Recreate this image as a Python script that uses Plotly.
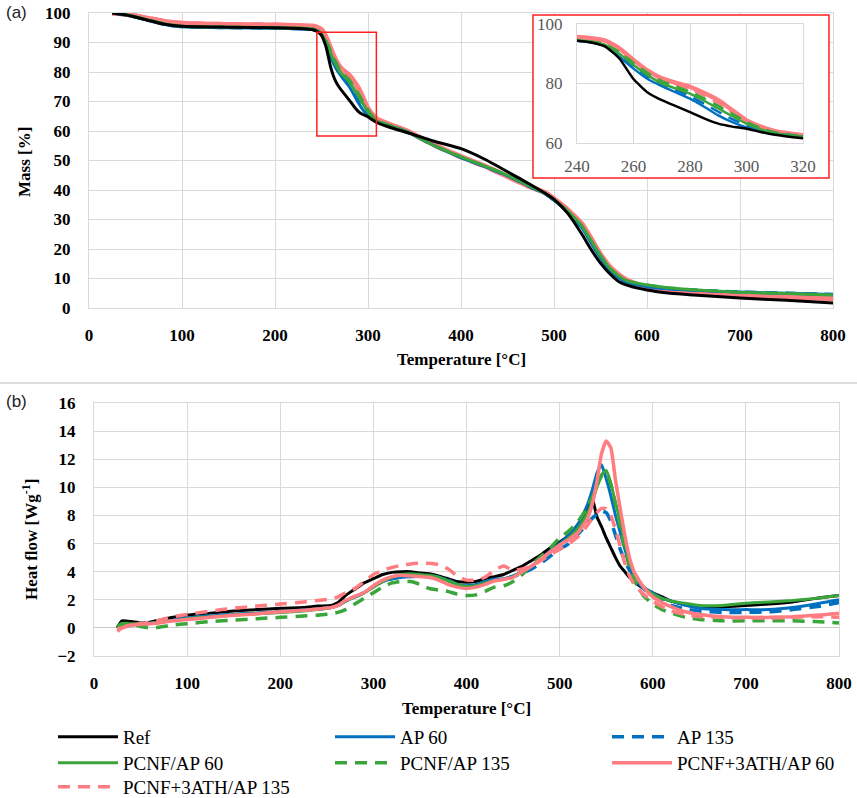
import plotly.graph_objects as go

W, H = 857, 798

# ---------------- data ----------------
series_names = ["Ref", "AP 60", "AP 135", "PCNF/AP 60", "PCNF/AP 135",
                "PCNF+3ATH/AP 60", "PCNF+3ATH/AP 135"]
series_colors = ["#000000", "#0070C0", "#0070C0", "#3AA53A", "#3AA53A",
                 "#FF7C80", "#FF7C80"]
series_dash = ["solid", "solid", "12px,8px", "solid", "12px,8px", "solid", "12px,8px"]
legend_row = ["legend", "legend", "legend", "legend2", "legend2", "legend2", "legend3"]

# TGA (mass %)
T_tga = [25, 40, 60, 80, 100, 150, 200, 230, 240, 245, 250, 255, 260, 265, 270, 275,
         280, 285, 290, 295, 300, 305, 310, 320, 330, 345, 370, 400, 425, 450, 475,
         490, 500, 515, 530, 540, 550, 560, 570, 580, 600, 625, 650, 700, 750, 800]
mass_ref = [100, 99.3, 97.8, 96.3, 95.5, 95.2, 95.0, 94.7, 94.4, 93.8, 92.4, 88.4, 81.5,
            77.0, 74.4, 72.4, 70.4, 68.3, 66.5, 65.5, 64.8, 63.7, 62.8, 61.6, 60.6, 59.2,
            56.6, 54.0, 50.5, 46.2, 41.8, 39.0, 36.8, 32.0, 25.0, 19.8, 15.2, 11.6, 8.9,
            7.6, 6.1, 5.0, 4.4, 3.4, 2.6, 1.7]
mass_ap60 = [100, 99.3, 97.8, 96.2, 95.3, 95.0, 94.8, 94.6, 94.4, 93.8, 92.6, 89.0, 85.0,
             81.5, 79.1, 77.0, 74.9, 72.2, 69.3, 67.0, 65.2, 64.0, 63.2, 62.1, 61.1, 59.3,
             55.2, 51.0, 48.0, 44.8, 41.0, 38.8, 36.5, 32.5, 27.2, 22.0, 17.0, 12.8, 10.2,
             8.5, 7.2, 6.4, 6.0, 5.4, 5.0, 4.6]
mass_ap135 = [100, 99.3, 97.8, 96.2, 95.3, 95.0, 94.8, 94.6, 94.4, 93.9, 92.9, 89.8, 86.0,
              82.3, 79.8, 77.8, 75.8, 73.2, 70.5, 68.0, 66.0, 64.4, 63.4, 62.1, 61.1, 59.3,
              55.2, 51.0, 48.0, 44.8, 41.0, 38.8, 36.5, 32.6, 27.5, 22.4, 17.5, 13.2, 10.5,
              8.7, 7.4, 6.5, 6.1, 5.5, 5.1, 4.7]
mass_pcnf60 = [100, 99.4, 97.9, 96.4, 95.5, 95.2, 95.0, 94.8, 94.6, 94.0, 93.0, 90.0, 86.2,
               82.8, 80.0, 78.3, 76.6, 74.2, 71.6, 69.0, 66.5, 64.6, 63.3, 62.1, 61.1, 59.3,
               55.2, 51.2, 48.2, 45.0, 41.2, 39.0, 36.7, 32.8, 27.8, 22.8, 17.8, 13.5, 10.8,
               9.0, 7.8, 6.8, 6.2, 5.3, 4.9, 4.4]
mass_pcnf135 = [100, 99.4, 97.9, 96.4, 95.5, 95.2, 95.0, 94.8, 94.6, 94.1, 93.2, 90.6, 87.0,
                83.6, 80.8, 79.0, 77.3, 75.0, 72.5, 69.8, 67.2, 65.0, 63.6, 62.2, 61.2, 59.3,
                55.2, 51.2, 48.2, 45.0, 41.2, 39.0, 36.7, 32.8, 27.8, 22.8, 17.8, 13.5, 10.8,
                9.0, 7.8, 6.8, 6.2, 5.4, 5.0, 4.5]
mass_ath60 = [100, 99.6, 98.4, 97.2, 96.5, 96.1, 95.9, 95.7, 95.6, 95.2, 94.4, 91.8, 87.9,
              84.3, 81.7, 80.2, 78.9, 76.8, 74.4, 71.0, 67.6, 65.5, 64.0, 62.6, 61.5, 59.6,
              55.5, 51.3, 48.2, 44.6, 41.0, 39.2, 37.0, 33.2, 28.5, 23.5, 18.2, 14.0, 11.2,
              9.2, 6.9, 5.8, 5.2, 4.2, 3.7, 3.1]
mass_ath135 = [100, 99.6, 98.4, 97.2, 96.5, 96.1, 95.9, 95.7, 95.5, 95.0, 94.2, 91.4, 87.4,
               83.8, 81.3, 79.8, 78.5, 76.3, 73.8, 70.5, 67.3, 65.3, 63.9, 62.5, 61.4, 59.5,
               55.4, 51.2, 48.1, 44.6, 41.0, 39.2, 37.0, 33.1, 28.3, 23.3, 18.0, 13.8, 11.0,
               9.0, 6.9, 5.8, 5.2, 4.3, 3.8, 3.3]
mass_all = [mass_ref, mass_ap60, mass_ap135, mass_pcnf60, mass_pcnf135, mass_ath60, mass_ath135]

# DSC (heat flow W/g)
T_dsc = [25, 30, 40, 50, 60, 70, 85, 100, 125, 150, 175, 200, 225, 240, 255, 262, 270, 280,
         290, 300, 310, 320, 330, 340, 350, 360, 370, 380, 390, 400, 410, 420, 430, 440,
         450, 460, 470, 480, 490, 500, 510, 520, 530, 535, 540, 545, 550, 555, 560, 565,
         570, 575, 580, 590, 600, 610, 620, 635, 650, 675, 700, 725, 750, 775, 800]
hf_ref = [0.0, 0.5, 0.45, 0.35, 0.4, 0.55, 0.75, 0.9, 1.05, 1.2, 1.3, 1.4, 1.45, 1.55, 1.6,
          1.8, 2.3, 2.75, 3.2, 3.5, 3.8, 3.95, 4.0, 4.0, 3.9, 3.85, 3.7, 3.5, 3.3, 3.25, 3.3,
          3.5, 3.65, 3.8, 4.1, 4.4, 4.8, 5.2, 5.7, 6.1, 6.6, 7.4, 8.5, 9.2, 7.9, 7.2, 6.4,
          5.7, 5.0, 4.4, 4.0, 3.6, 3.3, 2.8, 2.5, 2.2, 1.9, 1.65, 1.5, 1.5, 1.6, 1.7, 1.85,
          2.1, 2.3]
hf_ap60 = [0.0, 0.1, 0.2, 0.3, 0.35, 0.4, 0.55, 0.7, 0.85, 0.95, 1.05, 1.15, 1.25, 1.35,
           1.45, 1.6, 1.9, 2.2, 2.5, 2.95, 3.3, 3.5, 3.6, 3.65, 3.7, 3.7, 3.6, 3.4, 3.1, 3.0,
           3.05, 3.3, 3.45, 3.5, 3.7, 4.0, 4.4, 4.9, 5.5, 6.0, 6.6, 7.4, 8.8, 9.8, 11.0, 11.6,
           10.6, 9.4, 8.0, 6.8, 5.6, 4.6, 3.9, 2.9, 2.5, 2.1, 1.9, 1.6, 1.4, 1.3, 1.3, 1.3,
           1.45, 1.7, 2.0]
hf_ap135 = [0.0, 0.1, 0.2, 0.3, 0.35, 0.4, 0.55, 0.7, 0.85, 0.95, 1.05, 1.15, 1.25, 1.35,
            1.45, 1.6, 1.9, 2.2, 2.5, 2.95, 3.3, 3.5, 3.6, 3.65, 3.7, 3.7, 3.6, 3.4, 3.1, 3.0,
            3.05, 3.3, 3.45, 3.5, 3.65, 3.9, 4.2, 4.6, 5.1, 5.6, 6.0, 6.7, 7.4, 7.8, 8.1, 8.3,
            8.2, 7.6, 6.6, 5.6, 4.8, 4.1, 3.6, 2.8, 2.3, 1.9, 1.6, 1.35, 1.2, 1.1, 1.1, 1.15,
            1.3, 1.5, 1.8]
hf_pcnf60 = [0.1, 0.25, 0.3, 0.3, 0.3, 0.4, 0.5, 0.65, 0.8, 0.9, 1.0, 1.1, 1.2, 1.3, 1.45,
             1.6, 1.9, 2.2, 2.5, 2.9, 3.3, 3.6, 3.8, 3.85, 3.8, 3.75, 3.6, 3.35, 3.1, 2.95,
             3.0, 3.2, 3.35, 3.45, 3.65, 4.0, 4.4, 4.9, 5.4, 5.9, 6.4, 7.1, 8.2, 9.0, 10.0,
             10.9, 11.2, 10.3, 8.9, 7.6, 6.0, 4.8, 3.9, 2.9, 2.4, 2.1, 1.9, 1.75, 1.6, 1.6,
             1.75, 1.85, 1.95, 2.1, 2.3]
hf_pcnf135 = [0.1, 0.3, 0.3, 0.1, 0.0, 0.05, 0.2, 0.3, 0.45, 0.55, 0.65, 0.75, 0.85, 0.9,
              1.0, 1.1, 1.3, 1.7, 2.1, 2.5, 2.9, 3.2, 3.3, 3.3, 3.1, 2.8, 2.7, 2.6, 2.4, 2.3,
              2.35, 2.6, 2.9, 3.0, 3.3, 3.8, 4.5, 5.1, 5.7, 6.4, 6.9, 7.6, 8.6, 9.3, 10.1,
              10.8, 11.0, 10.2, 8.8, 7.2, 5.7, 4.3, 3.4, 2.3, 1.7, 1.3, 1.05, 0.75, 0.6, 0.5,
              0.5, 0.5, 0.5, 0.45, 0.35]
hf_ath60 = [-0.25, 0.0, 0.2, 0.25, 0.3, 0.35, 0.5, 0.6, 0.75, 0.9, 1.0, 1.15, 1.25, 1.35,
            1.45, 1.6, 1.95, 2.25, 2.5, 3.0, 3.4, 3.65, 3.75, 3.7, 3.65, 3.6, 3.4, 3.1, 2.9,
            2.8, 2.9, 3.1, 3.35, 3.45, 3.6, 4.0, 4.4, 4.9, 5.4, 5.9, 6.3, 6.8, 7.8, 8.8, 10.4,
            12.4, 13.3, 12.8, 10.5, 8.5, 6.6, 5.0, 4.0, 2.9, 2.2, 1.8, 1.5, 1.15, 0.95, 0.8,
            0.75, 0.75, 0.8, 0.9, 1.05]
hf_ath135 = [-0.1, 0.0, 0.2, 0.3, 0.4, 0.55, 0.8, 0.95, 1.2, 1.4, 1.55, 1.7, 1.85, 1.95,
             2.05, 2.2, 2.5, 2.8, 3.3, 3.8, 4.1, 4.3, 4.45, 4.55, 4.6, 4.6, 4.5, 4.2, 3.7,
             3.4, 3.4, 3.6, 4.1, 4.4, 4.1, 4.2, 4.4, 4.8, 5.2, 5.6, 6.0, 6.5, 7.3, 7.8, 8.2,
             8.5, 8.5, 8.0, 7.0, 5.8, 4.6, 3.7, 3.1, 2.4, 1.9, 1.5, 1.2, 0.95, 0.8, 0.75, 0.7,
             0.7, 0.75, 0.8, 0.75]
hf_all = [hf_ref, hf_ap60, hf_ap135, hf_pcnf60, hf_pcnf135, hf_ath60, hf_ath135]

mass_ticks = list(range(0, 101, 10))
temp_ticks = list(range(0, 801, 100))
inset_x_ticks = [240, 260, 280, 300, 320]
inset_y_ticks = [60, 80, 100]
hf_ticks = list(range(-2, 17, 2))
zoom_box_x = [245, 309]
zoom_box_y = [58.3, 93.5]

# ---------------- figure ----------------
def dx(a, b):
    return [a / W, b / W]

def dy(top, bottom):
    return [1 - bottom / H, 1 - top / H]

SERIF = "Liberation Serif, Times New Roman, serif"
GRID = "#d9d9d9"

fig = go.Figure()

top_order = [5, 6, 2, 4, 1, 3, 0]
top_width = [3, 3, 3, 3, 3, 5, 5]

for i in top_order:
    fig.add_trace(go.Scatter(x=T_tga, y=mass_all[i], mode="lines", xaxis="x", yaxis="y",
                             line=dict(color=series_colors[i], width=top_width[i],
                                       dash=series_dash[i], shape="spline", smoothing=0.5),
                             showlegend=False, hoverinfo="skip"))
fig.add_trace(go.Scatter(x=[], y=[], xaxis="x2", yaxis="y2", showlegend=False,
                         hoverinfo="skip"))
for i in top_order:
    fig.add_trace(go.Scatter(x=T_tga, y=mass_all[i], mode="lines", xaxis="x3", yaxis="y3",
                             line=dict(color=series_colors[i], width=top_width[i] - 0.5,
                                       dash=series_dash[i], shape="spline", smoothing=0.5),
                             showlegend=False, hoverinfo="skip"))
bot_width = [3, 3, 3.5, 3, 3.5, 3.5, 3.5]
for i in range(7):
    fig.add_trace(go.Scatter(x=T_dsc, y=hf_all[i], mode="lines", xaxis="x4", yaxis="y4",
                             name=series_names[i], legend=legend_row[i],
                             line=dict(color=series_colors[i], width=bot_width[i],
                                       dash=series_dash[i], shape="spline", smoothing=0.5),
                             showlegend=True, hoverinfo="skip"))

tickfont_b = dict(family=SERIF, size=17, color="black", weight="bold")

def leg(ycenter):
    return dict(orientation="h", x=53 / W, y=1 - ycenter / H, xanchor="left",
                yanchor="middle", entrywidth=202, entrywidthmode="pixels", itemwidth=60,
                font=dict(family=SERIF, size=19, color="black"),
                bgcolor="rgba(0,0,0,0)", traceorder="normal")

fig.update_layout(
    width=W, height=H, margin=dict(l=0, r=0, t=0, b=0, autoexpand=False),
    paper_bgcolor="white", plot_bgcolor="white",
    xaxis=dict(domain=dx(89, 833), range=[0, 800], tickvals=temp_ticks, showgrid=True,
               gridcolor=GRID, showline=True, linecolor=GRID, mirror=True, ticks="",
               tickfont=tickfont_b, ticklabelstandoff=12, zeroline=False, anchor="y"),
    yaxis=dict(domain=dy(13, 308), range=[0, 100], tickvals=mass_ticks, showgrid=True,
               gridcolor=GRID, showline=True, linecolor=GRID, mirror=True, ticks="",
               tickfont=tickfont_b, ticklabelstandoff=14, zeroline=False, anchor="x"),
    xaxis2=dict(domain=dx(533, 829), range=[0, 1], visible=False, anchor="y2"),
    yaxis2=dict(domain=dy(15, 178), range=[0, 1], visible=False, anchor="x2"),
    xaxis3=dict(domain=dx(577, 803), range=[240, 320], tickvals=inset_x_ticks,
                showgrid=True, gridcolor=GRID, showline=True, linecolor=GRID, mirror=True,
                ticks="", tickfont=dict(family=SERIF, size=17, color="#595959"),
                ticklabelstandoff=8, zeroline=False, anchor="y3"),
    yaxis3=dict(domain=dy(24, 143), range=[60, 100], tickvals=inset_y_ticks,
                showgrid=True, gridcolor=GRID, showline=True, linecolor=GRID, mirror=True,
                ticks="", tickfont=dict(family=SERIF, size=17, color="#595959"),
                ticklabelstandoff=10, zeroline=False, anchor="x3"),
    xaxis4=dict(domain=dx(94, 839), range=[0, 800], tickvals=temp_ticks, showgrid=True,
                gridcolor=GRID, showline=True, linecolor=GRID, mirror=True, ticks="",
                tickfont=tickfont_b, ticklabelstandoff=12, zeroline=False, anchor="y4"),
    yaxis4=dict(domain=dy(403, 656), range=[-2, 16], tickvals=hf_ticks, showgrid=True,
                gridcolor=GRID, showline=True, linecolor=GRID, mirror=True, ticks="",
                tickfont=tickfont_b, ticklabelstandoff=14, zeroline=True,
                zerolinecolor="#c8c8c8", zerolinewidth=1, anchor="x4"),
    legend=leg(737), legend2=leg(763), legend3=leg(787),
    showlegend=True,
)

fig.add_shape(type="rect", xref="x", yref="y", x0=zoom_box_x[0], x1=zoom_box_x[1],
              y0=zoom_box_y[0], y1=zoom_box_y[1], line=dict(color="#FF2020", width=1.5),
              layer="above")
fig.add_shape(type="rect", xref="paper", yref="paper", x0=533 / W, x1=829 / W,
              y0=1 - 178 / H, y1=1 - 15 / H, line=dict(color="#FF2020", width=1.5),
              layer="above")
fig.add_shape(type="line", xref="paper", yref="paper", x0=0, x1=1, y0=1 - 383 / H,
              y1=1 - 383 / H, line=dict(color="#d0d0d0", width=1.5))

ann_b = dict(family=SERIF, size=17, color="black", weight="bold")
sans = dict(family="Liberation Sans, Arial, sans-serif", size=17, color="#222")

def note(text, xp, yp, font, angle=0, xanchor="center"):
    fig.add_annotation(text=text, x=xp / W, y=1 - yp / H, xref="paper", yref="paper",
                       xanchor=xanchor, yanchor="middle", textangle=angle,
                       showarrow=False, font=font)

note("(a)", 4, 12, sans, xanchor="left")
note("(b)", 4, 401, sans, xanchor="left")
note("Mass [%]", 25, 162, ann_b, angle=-90)
note("Temperature [°C]", 461, 359, ann_b)
note("Heat flow [Wg<sup>-1</sup>]", 30, 540, ann_b, angle=-90)
note("Temperature [°C]", 466, 708, ann_b)

fig.write_html("out.html")
